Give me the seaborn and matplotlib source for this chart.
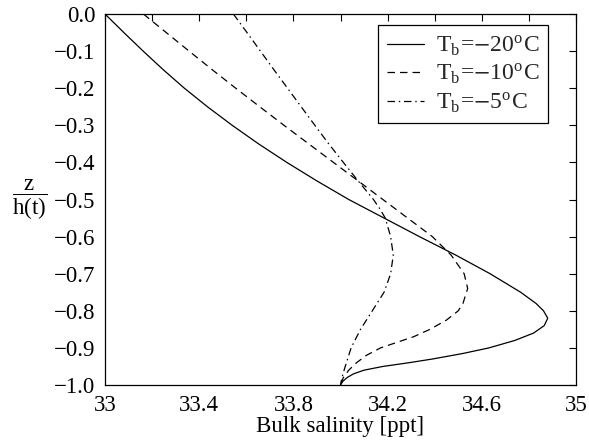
import numpy as np
import pandas as pd
import matplotlib
matplotlib.use("Agg")
import matplotlib.pyplot as plt
import seaborn as sns

# ---- data ----
z_m20 = [0.0, -0.05, -0.1, -0.15, -0.2, -0.25, -0.3, -0.35, -0.4, -0.45, -0.5, -0.55, -0.6, -0.65,
         -0.7, -0.75, -0.78, -0.8, -0.82, -0.84, -0.86, -0.88, -0.9, -0.915, -0.93, -0.94, -0.95,
         -0.96, -0.97, -0.98, -0.99, -1.0]
s_m20 = [33.0, 33.08, 33.162, 33.247, 33.337, 33.435, 33.54, 33.652, 33.772, 33.9, 34.035, 34.185, 34.335, 34.49,
         34.635, 34.765, 34.83, 34.862, 34.88, 34.865, 34.82, 34.74, 34.63, 34.52, 34.39, 34.29, 34.18,
         34.10, 34.055, 34.028, 34.01, 34.0]

z_m10 = [0.0, -0.05, -0.1, -0.15, -0.2, -0.25, -0.3, -0.35, -0.4, -0.45, -0.5, -0.55, -0.6, -0.65,
         -0.7, -0.74, -0.78, -0.8, -0.825, -0.85, -0.87, -0.9, -0.92, -0.94, -0.96, -0.98, -1.0]
s_m10 = [33.163, 33.26, 33.357, 33.455, 33.555, 33.657, 33.76, 33.865, 33.97, 34.075, 34.18, 34.285, 34.39, 34.47,
         34.525, 34.54, 34.52, 34.50, 34.45, 34.38, 34.31, 34.17, 34.11, 34.068, 34.035, 34.012, 34.0]

z_m5 = [0.0, -0.05, -0.1, -0.15, -0.2, -0.25, -0.3, -0.35, -0.4, -0.45, -0.5, -0.525, -0.55, -0.6, -0.65,
        -0.7, -0.75, -0.8, -0.85, -0.9, -0.95, -0.98, -1.0]
s_m5 = [33.545, 33.603, 33.66, 33.717, 33.775, 33.833, 33.891, 33.95, 34.012, 34.075, 34.14, 34.167, 34.19, 34.213, 34.224,
        34.213, 34.185, 34.135, 34.085, 34.045, 34.02, 34.006, 34.0]

labels = [r"T$_\mathregular{b}$=$-$20$^\mathregular{o}$C",
          r"T$_\mathregular{b}$=$-$10$^\mathregular{o}$C",
          r"T$_\mathregular{b}$=$-$5$^\mathregular{o}$C"]

x_ticks = [33.0, 33.2, 33.4, 33.6, 33.8, 34.0, 34.2, 34.4, 34.6, 34.8, 35.0]
x_ticklabels = ["33", "", "33.4", "", "33.8", "", "34.2", "", "34.6", "", "35"]
y_ticks = [0.0, -0.1, -0.2, -0.3, -0.4, -0.5, -0.6, -0.7, -0.8, -0.9, -1.0]

sns.set_theme(style="white")
plt.rcParams["font.family"] = ["Liberation Serif", "DejaVu Serif"]
plt.rcParams["mathtext.fontset"] = "stix"
plt.rcParams["axes.unicode_minus"] = True

FS = 16.5

fig = plt.figure(figsize=(5.89, 4.47), dpi=100)
ax = fig.add_axes([105/589, 1-385/447, (576-105)/589, (385-14)/447])

styles = ["-", (0, (6, 4)), (0, (6, 3, 1.2, 3))]
series = [(s_m20, z_m20), (s_m10, z_m10), (s_m5, z_m5)]
for (s, z), ls, lab in zip(series, styles, labels):
    sns.lineplot(x=s, y=z, ax=ax, sort=False, estimator=None, color="black",
                 linewidth=0.9, linestyle=ls, label=lab)

ax.set_xlim(33, 35)
ax.set_ylim(-1.0, 0.0)
ax.set_xticks(x_ticks)
ax.set_xticklabels(x_ticklabels)
ax.set_yticks(y_ticks)
ax.set_yticklabels([f"{v:.1f}".replace("-", "\u2212") for v in y_ticks])
ax.tick_params(direction="in", length=5, width=0.8, top=True, right=True,
               labelsize=FS, colors="black", pad=7)
for sp in ax.spines.values():
    sp.set_color("black")
    sp.set_linewidth(0.9)

ax.set_xlabel("Bulk salinity [ppt]", fontsize=FS, color="black", labelpad=0)
ax.set_ylabel(r"$\dfrac{\mathregular{z}}{\mathregular{h(t)}}$", fontsize=FS,
              rotation=0, color="black", va="center", ha="center")
ax.yaxis.set_label_coords(-0.161, 0.5)

leg = ax.legend(loc="upper right", bbox_to_anchor=(0.9406, 0.9704), borderaxespad=0,
                fancybox=False, frameon=True, edgecolor="black", fontsize=17,
                handlelength=1.6, handletextpad=0.5, labelspacing=0.18, borderpad=0.35)
leg.get_frame().set_linewidth(0.9)
leg.get_frame().set_facecolor("white")
leg.get_frame().set_alpha(1)

fig.savefig("out.png", dpi=100, facecolor="white")
